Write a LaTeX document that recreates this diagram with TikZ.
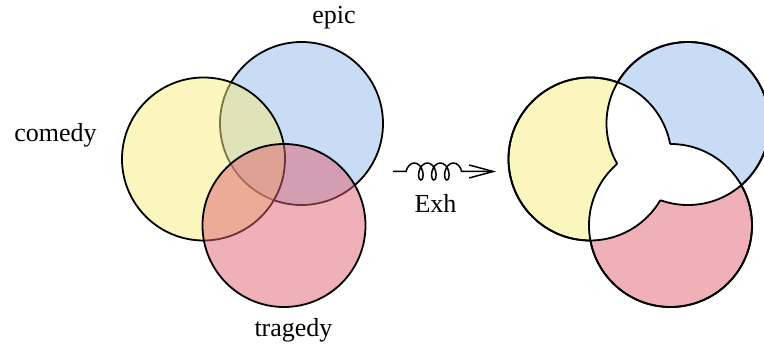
\documentclass[tikz,border=0pt]{standalone}
\usepackage{fontspec}
\setmainfont{Liberation Serif}
\usetikzlibrary{decorations.pathmorphing,arrows.meta}
\definecolor{cyel}{RGB}{245,237,125}
\definecolor{cblu}{RGB}{145,185,235}
\definecolor{cred}{RGB}{223,97,113}
\definecolor{syel}{RGB}{250,246,190}
\definecolor{sblu}{RGB}{200,220,245}
\definecolor{sred}{RGB}{239,176,184}
\def\crad{81.5pt}
\begin{document}
\begin{tikzpicture}[x=1pt,y=-1pt,
  lbl/.style={font=\fontsize{26}{30}\selectfont, inner sep=0pt, anchor=base},
  ring/.style={circle, minimum size=163pt, inner sep=0pt, line width=1.8pt},
  outline/.style={line width=1.8pt}]
\useasboundingbox (0,0) rectangle (764,347);
% left Venn
\node[ring, draw, fill=cblu, fill opacity=0.5] (LB) at (301.5,123.5) {};
\node[ring, draw, fill=cyel, fill opacity=0.5] (LY) at (203.5,159) {};
\node[ring, draw, fill=cred, fill opacity=0.5] (LR) at (284,225.5) {};
% right Venn
\node[ring, fill=syel] (RY) at (590,159) {};
\node[ring, fill=sblu] (RB) at (688,123.5) {};
\node[ring, fill=sred] (RR) at (670.5,225.5) {};
\begin{scope}
  \clip (RY.center) circle[radius=\crad];
  \fill[white] (RB.center) circle[radius=\crad];
  \fill[white] (RR.center) circle[radius=\crad];
\end{scope}
\begin{scope}
  \clip (RB.center) circle[radius=\crad];
  \fill[white] (RR.center) circle[radius=\crad];
\end{scope}
\foreach \Y/\X in {RY/RB,RY/RR,RB/RY,RB/RR,RR/RY,RR/RB}{
  \begin{scope}[even odd rule]
    \clip (-10,-10) -- (800,-10) -- (800,360) -- (-10,360) -- cycle (\X.center) circle[radius=\crad];
    \draw[outline] (\Y.center) circle[radius=\crad];
  \end{scope}
}
% labels
\node[lbl] (epic) at (334,24) {epic};
\node[lbl] (comedy) at (55.5,141.5) {comedy};
\node[lbl] (tragedy) at (293.5,337) {tragedy};
\node[lbl] (exh) at (435.5,212.5) {Exh};
% arrow
\coordinate (as) at (393,171.5);
\coordinate (ae) at (496,171.5);
\draw[line width=1.5pt, -{Straight Barb[length=24pt,width=13pt]}, decorate,
  decoration={coil, aspect=0.6, amplitude=8.5pt, segment length=13pt, pre length=13pt, post length=31pt}] (as) -- (ae);
\end{tikzpicture}
\end{document}
